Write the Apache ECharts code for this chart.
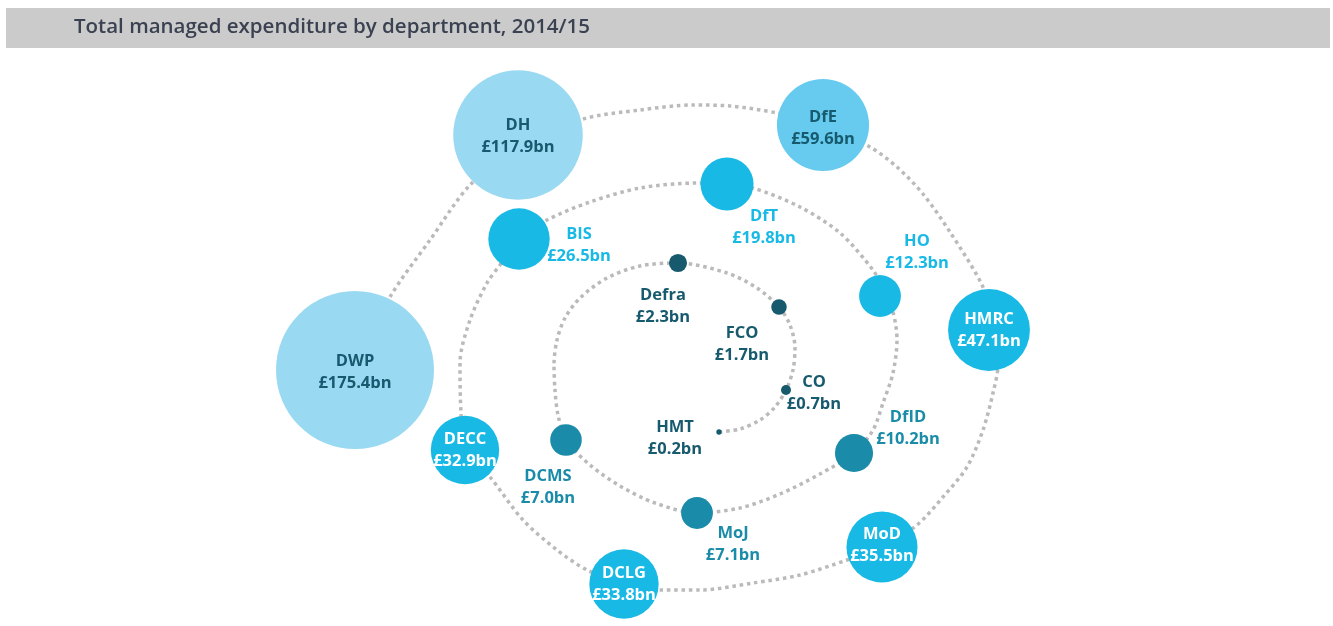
<!DOCTYPE html>
<html>
<head>
<meta charset="utf-8">
<title>Total managed expenditure by department, 2014/15</title>
<script src="https://cdn.jsdelivr.net/npm/echarts@6/dist/echarts.min.js"></script>
<style>
  html, body { margin: 0; padding: 0; background: #fff; }
  #main { width: 1333px; height: 626px; }
</style>
</head>
<body>
<div id="main"></div>
<script>
// departments in spiral order, from the centre outwards
var departments = ['HMT', 'CO', 'FCO', 'Defra', 'DCMS', 'MoJ', 'DfID', 'HO', 'DfT',
                   'BIS', 'DECC', 'DCLG', 'MoD', 'HMRC', 'DfE', 'DH', 'DWP'];
// total managed expenditure, £bn
var spending = [0.2, 0.7, 1.7, 2.3, 7.0, 7.1, 10.2, 12.3, 19.8,
                26.5, 32.9, 33.8, 35.5, 47.1, 59.6, 117.9, 175.4];
// place of each department on the spiral
var spiralX = [719, 786, 779, 678, 566, 697, 854, 880, 727, 519, 465, 624, 882, 989, 823, 518, 355];
var spiralY = [432, 390, 307, 263, 440, 513, 453, 296, 184, 239, 450, 584, 547, 330, 125, 135, 370];
// the dotted spiral itself
var pathX = [719, 740, 760, 775, 786, 793, 795, 790, 779, 757, 727, 678, 640, 607, 580, 565, 557, 554, 555, 558,
             566, 590, 620, 655, 697, 740, 780, 820, 854, 873, 883, 893, 897, 893, 882, 873, 840, 800, 753, 727,
             697, 640, 590, 547, 519, 500, 487, 470, 460, 461, 465, 490, 523, 557, 587, 624, 660, 700, 753, 800,
             847, 882, 917, 943, 967, 983, 993, 998, 996, 983, 950, 923, 897, 870, 823, 777, 730, 693, 640, 583,
             520, 470, 430, 390, 355];
var pathY = [432, 429, 420, 407, 390, 370, 348, 325, 307, 288, 273, 263, 266, 278, 298, 318, 340, 365, 390, 415,
             440, 465, 486, 503, 513, 508, 494, 474, 453, 430, 403, 373, 340, 312, 287, 270, 233, 207, 188, 184,
             183, 188, 202, 220, 239, 265, 283, 320, 363, 413, 450, 477, 520, 550, 570, 584, 590, 590, 583, 575,
             560, 547, 525, 497, 467, 430, 393, 365, 330, 287, 232, 194, 167, 147, 125, 113, 106, 105, 110, 119,
             145, 185, 240, 297, 370];

// colours
var DARK = '#175a6e', TEAL = '#1a8ca9', CYAN = '#19b9e5', MID = '#66cbef', LIGHT = '#9ad9f2';
var tier = {
    HMT: DARK, CO: DARK, FCO: DARK, Defra: DARK,
    DCMS: TEAL, MoJ: TEAL, DfID: TEAL,
    HO: CYAN, DfT: CYAN, BIS: CYAN, DECC: CYAN, DCLG: CYAN, MoD: CYAN, HMRC: CYAN,
    DfE: MID, DH: LIGHT, DWP: LIGHT
};
// label placement: offset from the bubble centre, colour
var labelStyle = {
    HMT:   { offset: [-44, 6],  color: DARK },
    CO:    { offset: [28, 3],   color: DARK },
    FCO:   { offset: [-37, 37], color: DARK },
    Defra: { offset: [-15, 43], color: DARK },
    DCMS:  { offset: [-18, 47], color: TEAL },
    MoJ:   { offset: [36, 31],  color: TEAL },
    DfID:  { offset: [54, -25], color: TEAL },
    HO:    { offset: [37, -44], color: CYAN },
    DfT:   { offset: [37, 43],  color: CYAN },
    BIS:   { offset: [60, 6],   color: CYAN },
    DECC:  { offset: [0, 0],    color: '#ffffff' },
    DCLG:  { offset: [0, 0],    color: '#ffffff' },
    MoD:   { offset: [0, -2],   color: '#ffffff' },
    HMRC:  { offset: [0, 0],    color: '#ffffff' },
    DfE:   { offset: [0, 3],    color: DARK },
    DH:    { offset: [0, 1],    color: DARK },
    DWP:   { offset: [0, 2],    color: DARK }
};

var bubbles = departments.map(function (d, i) {
    var ls = labelStyle[d];
    return {
        name: d,
        value: [spiralX[i], spiralY[i], spending[i]],
        itemStyle: { color: tier[d], opacity: 1 },
        label: { offset: ls.offset, color: ls.color }
    };
});
var spiral = pathX.map(function (x, i) { return [x, pathY[i]]; });

var dom = document.getElementById('main');
var myChart = echarts.init(dom);
var option = {
    animation: false,
    textStyle: { fontFamily: '"Open Sans", sans-serif' },
    graphic: [{
        type: 'rect',
        shape: { x: 6, y: 8, width: 1324, height: 40 },
        style: { fill: '#cbcbcb' },
        z: 0
    }],
    title: {
        text: 'Total managed expenditure by department, 2014/15',
        left: 74,
        top: 17,
        padding: 0,
        textStyle: { fontFamily: '"Open Sans", sans-serif', fontSize: 20.5, fontWeight: 600, color: '#3a4150' },
        z: 5
    },
    grid: { left: 0, right: 0, top: 0, bottom: 0 },
    xAxis: { type: 'value', min: 0, max: 1333, show: false },
    yAxis: { type: 'value', min: 0, max: 626, inverse: true, show: false },
    series: [{
        type: 'line',
        data: spiral,
        smooth: 0.3,
        symbol: 'none',
        silent: true,
        z: 1,
        lineStyle: { color: '#bababa', width: 3.5, type: [3.5, 3.8], cap: 'butt' }
    }, {
        type: 'scatter',
        data: bubbles,
        z: 3,
        symbolSize: function (val) { return 158 * Math.sqrt(val[2] / 175.4); },
        label: {
            show: true,
            position: 'inside',
            fontFamily: '"Open Sans", sans-serif',
            fontSize: 16.5,
            fontWeight: 'bold',
            lineHeight: 22,
            align: 'center',
            formatter: function (p) { return p.name + '\n£' + p.value[2].toFixed(1) + 'bn'; }
        },
        emphasis: { disabled: true }
    }]
};
if (option && typeof option === "object") {
    myChart.setOption(option, true);
}
</script>
</body>
</html>
